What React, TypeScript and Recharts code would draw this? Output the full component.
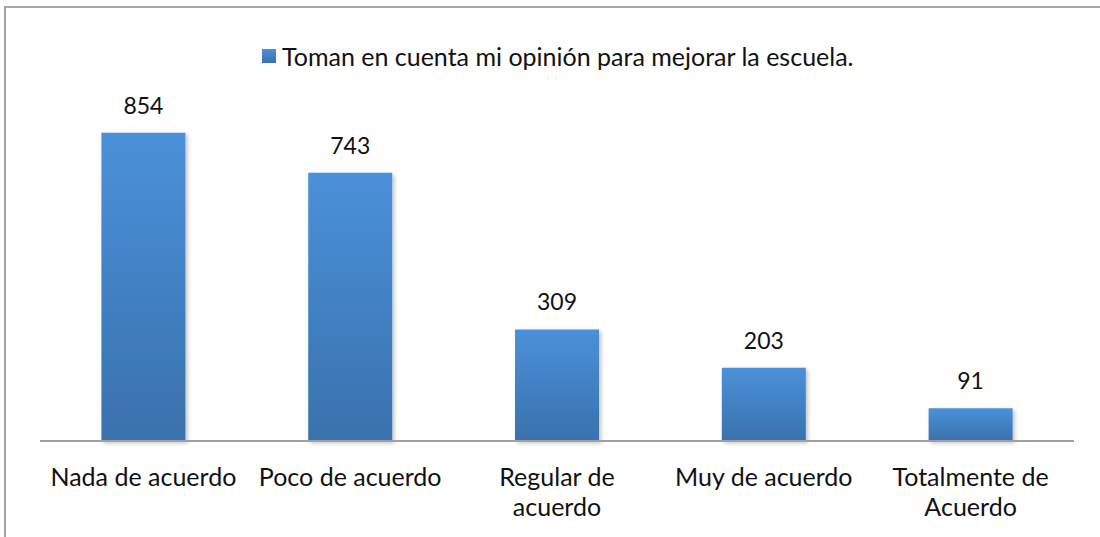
import React from 'react'
import { BarChart, Bar, XAxis, YAxis, LabelList } from 'recharts'

const categorias = ['Nada de acuerdo', 'Poco de acuerdo', 'Regular de\nacuerdo', 'Muy de acuerdo', 'Totalmente de\nAcuerdo']
const respuestas = [854, 743, 309, 203, 91]
const serieNombre = 'Toman en cuenta mi opinión para mejorar la escuela.'

const data = categorias.map((c, i) => ({ categoria: c, valor: respuestas[i] }))

const FONT = 'Lato, "Open Sans", sans-serif'

function CategoriaTick({ x, y, payload }: any) {
  const lines = String(payload.value).split('\n')
  return (
    <text x={x} y={y} textAnchor="middle" fill="#111" fontSize={25} fontFamily={FONT}>
      {lines.map((l, i) => (
        <tspan key={i} x={x} dy={i === 0 ? 45 : 30}>{l}</tspan>
      ))}
    </text>
  )
}

export default function App() {
  return (
    <div style={{ position: 'absolute', left: 0, top: 0, width: 1100, height: 537, background: '#fff', fontFamily: FONT }}>
      <style>{'body{margin:0}'}</style>
      <div style={{ position: 'absolute', left: 4, top: 6, right: 0, bottom: 0, borderTop: '2px solid #a6a6a6', borderLeft: '2px solid #a6a6a6' }} />
      <div style={{ position: 'absolute', left: 262, top: 41, height: 30, display: 'flex', alignItems: 'center', fontSize: 25, color: '#111', whiteSpace: 'nowrap' }}>
        <span style={{ display: 'inline-block', width: 14, height: 14, marginRight: 6, background: 'linear-gradient(#4a90d8, #3a72ae)' }} />
        {serieNombre}
      </div>
      <BarChart
        width={1100}
        height={537}
        data={data}
        margin={{ top: 80, right: 26, left: 40, bottom: 0 }}
        barCategoryGap="29.7%"
        style={{ position: 'absolute', left: 0, top: 0 }}
      >
        <defs>
          <linearGradient id="barGrad" x1="0" y1="0" x2="0" y2="1">
            <stop offset="0%" stopColor="#4a91d9" />
            <stop offset="100%" stopColor="#3a71ad" />
          </linearGradient>
          <filter id="barShadow" x="-10%" y="-10%" width="130%" height="130%">
            <feDropShadow dx="2" dy="2" stdDeviation="2" floodColor="#000" floodOpacity="0.25" />
          </filter>
        </defs>
        <XAxis
          dataKey="categoria"
          height={96}
          interval={0}
          tickLine={false}
          tickSize={0}
          tickMargin={0}
          axisLine={{ stroke: '#a0a0a0', strokeWidth: 2 }}
          tick={<CategoriaTick />}
        />
        <YAxis hide domain={[0, 1000]} />
        <Bar dataKey="valor" name={serieNombre} fill="url(#barGrad)" filter="url(#barShadow)" isAnimationActive={false}>
          <LabelList dataKey="valor" position="top" offset={19} fill="#111" fontSize={23} fontFamily={FONT} />
        </Bar>
      </BarChart>
    </div>
  )
}
